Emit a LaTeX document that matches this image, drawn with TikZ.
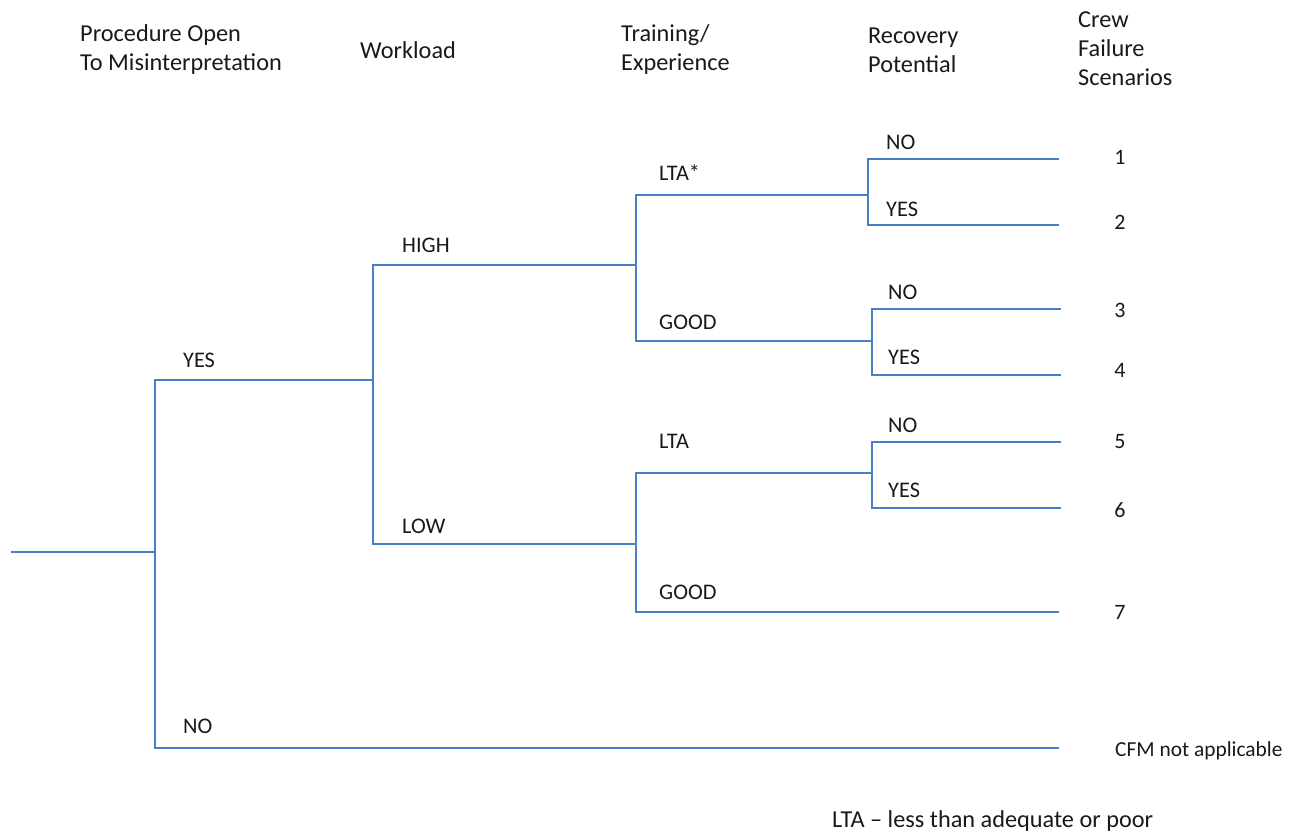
\documentclass[tikz,border=0pt]{standalone}
\usepackage{fontspec}
\setmainfont{Carlito}
\definecolor{branch}{RGB}{74,126,198}
\definecolor{ink}{RGB}{25,25,25}
\begin{document}
\begin{tikzpicture}[x=1pt,y=-1pt,
  edge/.style={draw=branch,line width=2.9pt,line cap=rect},
  head/.style={font=\fontsize{24.3}{29}\selectfont,text=ink,align=left,anchor=west,inner sep=0pt},
  lbl/.style={font=\fontsize{22.3}{26}\selectfont,text=ink,anchor=west,inner sep=0pt},
  num/.style={font=\fontsize{22}{26}\selectfont,text=ink,anchor=center,inner sep=0pt}]
\useasboundingbox (0,0) rectangle (1298,833);

% column headings
\node[head] (h1) at (80,50) {Procedure Open\\To Misinterpretation};
\node[head] (h2) at (360,50) {Workload};
\node[head] (h3) at (621,50) {Training/\\Experience};
\node[head] (h4) at (868,50) {Recovery\\Potential};
\node[head] (h5) at (1078,49) {Crew\\Failure\\Scenarios};

% branch points
\coordinate (start) at (12,552);
\coordinate (p1) at (155,552);
\coordinate (p1y) at (155,380);
\coordinate (p1n) at (155,748);
\coordinate (w) at (373,380);
\coordinate (wh) at (373,265);
\coordinate (wl) at (373,544);
\coordinate (th) at (636,265);
\coordinate (thl) at (636,195);
\coordinate (thg) at (636,341);
\coordinate (tl) at (636,544);
\coordinate (tll) at (636,473);
\coordinate (tlg) at (636,612);
\coordinate (r1) at (868,195);
\coordinate (r1n) at (868,159);
\coordinate (r1y) at (868,225);
\coordinate (r2) at (872,341);
\coordinate (r2n) at (872,309);
\coordinate (r2y) at (872,375);
\coordinate (r3) at (872,473);
\coordinate (r3n) at (872,442);
\coordinate (r3y) at (872,508);
% end points
\coordinate (e1) at (1058,159);
\coordinate (e2) at (1058,225);
\coordinate (e3) at (1060,309);
\coordinate (e4) at (1060,375);
\coordinate (e5) at (1060,442);
\coordinate (e6) at (1060,508);
\coordinate (e7) at (1058,612);
\coordinate (e8) at (1058,748);

% tree
\draw[edge] (start) -- (p1);
\draw[edge] (p1y) -- (p1n);
\draw[edge] (p1y) -- (w);
\draw[edge] (p1n) -- (e8);
\draw[edge] (wh) -- (wl);
\draw[edge] (wh) -- (th);
\draw[edge] (wl) -- (tl);
\draw[edge] (thl) -- (thg);
\draw[edge] (thl) -- (r1);
\draw[edge] (thg) -- (r2);
\draw[edge] (tll) -- (tlg);
\draw[edge] (tll) -- (r3);
\draw[edge] (tlg) -- (e7);
\draw[edge] (r1n) -- (r1y);
\draw[edge] (r1n) -- (e1);
\draw[edge] (r1y) -- (e2);
\draw[edge] (r2n) -- (r2y);
\draw[edge] (r2n) -- (e3);
\draw[edge] (r2y) -- (e4);
\draw[edge] (r3n) -- (r3y);
\draw[edge] (r3n) -- (e5);
\draw[edge] (r3y) -- (e6);

% branch labels
\node[lbl] (lyes) at (183,360) {YES};
\node[lbl] (lno) at (183,726) {NO};
\node[lbl] (lhigh) at (402,245) {HIGH};
\node[lbl] (llow) at (402,526) {LOW};
\node[lbl] (llta1) at (659,173) {LTA*};
\node[lbl] (lgood1) at (659,322) {GOOD};
\node[lbl] (llta2) at (659,441) {LTA};
\node[lbl] (lgood2) at (659,592) {GOOD};
\node[lbl] (ln1) at (886,142) {NO};
\node[lbl] (ly1) at (886,209) {YES};
\node[lbl] (ln2) at (888,292) {NO};
\node[lbl] (ly2) at (888,357) {YES};
\node[lbl] (ln3) at (888,425) {NO};
\node[lbl] (ly3) at (888,490) {YES};

% scenario numbers
\node[num] (s1) at (1120,157) {1};
\node[num] (s2) at (1120,222) {2};
\node[num] (s3) at (1120,310) {3};
\node[num] (s4) at (1120,370) {4};
\node[num] (s5) at (1120,442) {5};
\node[num] (s6) at (1120,510) {6};
\node[num] (s7) at (1120,612) {7};
\node[lbl,font=\fontsize{21.4}{25}\selectfont] (cfm) at (1115,751) {CFM not applicable};

% footnote
\node[lbl,font=\fontsize{24.3}{28}\selectfont] (note) at (832,821) {LTA – less than adequate or poor};
\end{tikzpicture}
\end{document}
